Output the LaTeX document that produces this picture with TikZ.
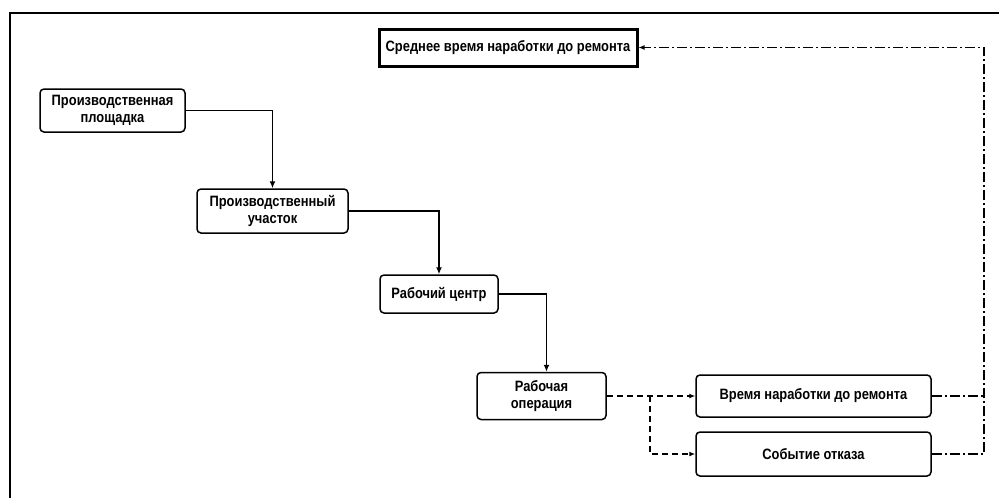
\documentclass[tikz,border=0pt]{standalone}
\usepackage{fontspec}
\setmainfont[FakeStretch=0.86]{Liberation Sans}
\usetikzlibrary{arrows.meta}
\begin{document}
\begin{tikzpicture}[x=1pt,y=-1pt,
  box/.style={draw,line width=1.5pt,rounded corners=4pt,align=center,inner sep=0pt,
    font=\fontsize{15}{17}\selectfont\bfseries},
  topbox/.style={draw,line width=3pt,inner sep=0pt,
    font=\fontsize{15}{17}\selectfont\bfseries},
  solidarrow/.style={line width=1.5pt,-{Latex[length=7pt,width=6pt]}},
  dasharrow/.style={line width=1.5pt,dash pattern=on 6pt off 4pt,-{Latex[length=6pt,width=5pt]}},
  dashdot/.style={line width=1.5pt,dash pattern=on 10pt off 3pt on 2pt off 3pt}]
\path[use as bounding box,fill=white] (0,0) rectangle (999,498);
\draw[line width=2pt] (10,498) -- (10,13) -- (999,13);
\node[topbox,minimum width=258pt,minimum height=37pt] (top) at (508,47.5) {Среднее время наработки до ремонта};
\node[box,minimum width=145pt,minimum height=43pt] (n1) at (112.5,110.5) {Производственная\\площадка};
\node[box,minimum width=151pt,minimum height=44pt] (n2) at (272.5,211) {Производственный\\участок};
\node[box,minimum width=118pt,minimum height=38pt] (n3) at (439,294) {Рабочий центр};
\node[box,minimum width=129pt,minimum height=47pt] (n4) at (541.5,396) {Рабочая\\операция};
\node[box,minimum width=235pt,minimum height=42pt] (n5) at (813.5,396) {Время наработки до ремонта};
\node[box,minimum width=235pt,minimum height=44pt] (n6) at (813.5,454) {Событие отказа};
\coordinate (br) at (650,396);
\coordinate (rc) at (984,47.5);
\draw[solidarrow] (n1.east) -| (n2.north);
\draw[solidarrow] (n2.east) -| (n3.north);
\draw[solidarrow] (n3.east) -| ([xshift=5pt]n4.north);
\draw[dasharrow] (n4.east) -- (n5.west);
\draw[dasharrow] (br) |- (n6.west);
\draw[dashdot] (n5.east) -- (n5.east -| rc);
\draw[dashdot,-{Latex[length=6pt,width=5pt]}] (n6.east) -| (rc) -- (top.east);
\end{tikzpicture}
\end{document}
